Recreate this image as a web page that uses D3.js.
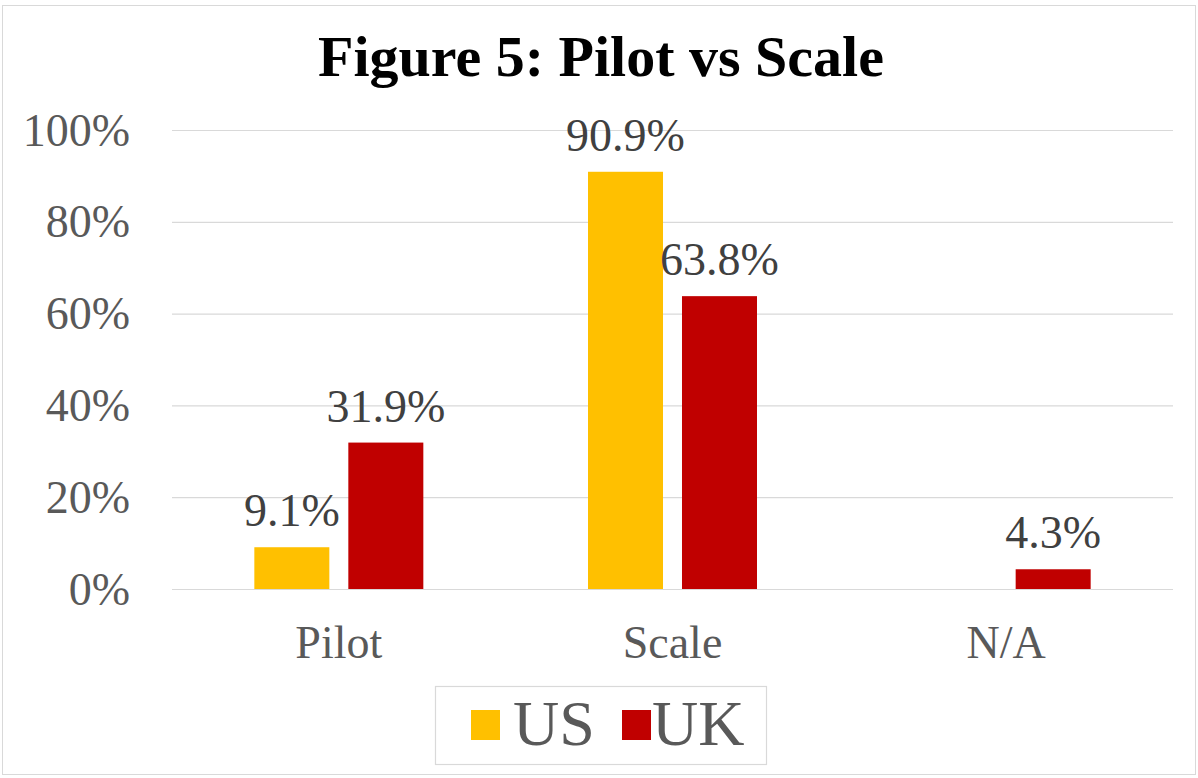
<!DOCTYPE html>
<html>
<head>
<meta charset="utf-8">
<script src="https://cdn.jsdelivr.net/npm/d3@7"></script>
<style>
  html, body { margin: 0; padding: 0; background: #fff; }
  svg { display: block; }
</style>
</head>
<body>
<svg id="chart" width="1198" height="778"></svg>
<script>
const title = "Figure 5: Pilot vs Scale";
const categories = ["Pilot", "Scale", "N/A"];
const seriesNames = ["US", "UK"];
const usValues = [9.1, 90.9, null];
const ukValues = [31.9, 63.8, 4.3];
const yTicks = [0, 20, 40, 60, 80, 100];
const colors = ["#FFC000", "#C00000"];

const seriesValues = [usValues, ukValues];
const W = 1198, H = 778;
const svg = d3.select("#chart");
const serif = "'Liberation Serif', 'Times New Roman', serif";
const textColor = "#595959";

// outer border
svg.append("rect").attr("x", 2.5).attr("y", 5.5).attr("width", 1193).attr("height", 769)
  .attr("fill", "#fff").attr("stroke", "#D9D9D9").attr("stroke-width", 1);

const plot = { left: 172, right: 1173, top: 130, bottom: 589 };

const x0 = d3.scaleBand().domain(categories).range([plot.left, plot.right]).padding(0);
const bw = x0.bandwidth();
const groupW = 169;
const x1 = d3.scaleBand().domain(seriesNames)
  .range([bw / 2 - groupW / 2, bw / 2 + groupW / 2]).paddingInner(0.202).paddingOuter(0);
const y = d3.scaleLinear().domain([0, 100]).range([plot.bottom, plot.top]);

// title
svg.append("text").attr("x", 601).attr("y", 76).attr("text-anchor", "middle")
  .attr("font-family", serif).attr("font-weight", "bold").attr("font-size", 58)
  .attr("fill", "#000").text(title);

// grid + y axis
const yAxis = d3.axisLeft(y).tickValues(yTicks).tickFormat(d => d + "%")
  .tickSize(-(plot.right - plot.left)).tickPadding(42);
const gy = svg.append("g").attr("transform", `translate(${plot.left},0)`).call(yAxis);
gy.attr("font-family", serif);
gy.select(".domain").remove();
gy.selectAll(".tick line").attr("stroke", "#D9D9D9").attr("stroke-width", 1.2);
gy.selectAll(".tick text").attr("font-family", serif).attr("font-size", 46)
  .attr("fill", textColor).attr("dy", "0.33em");

// x axis labels
const xAxis = d3.axisBottom(x0).tickSize(0).tickPadding(36);
const gx = svg.append("g").attr("transform", `translate(0,${plot.bottom})`).call(xAxis);
gx.attr("font-family", serif);
gx.select(".domain").remove();
gx.selectAll(".tick text").attr("font-family", serif).attr("font-size", 46)
  .attr("fill", textColor).attr("dy", "0.71em");

// bars
const rows = [];
categories.forEach((c, i) => {
  seriesNames.forEach((s, j) => {
    const v = seriesValues[j][i];
    if (v !== null) rows.push({ cat: c, series: s, value: v, color: colors[j] });
  });
});

svg.append("g").selectAll("rect").data(rows).join("rect")
  .attr("x", d => x0(d.cat) + x1(d.series))
  .attr("y", d => y(d.value))
  .attr("width", x1.bandwidth())
  .attr("height", d => y(0) - y(d.value))
  .attr("fill", d => d.color);

svg.append("g").selectAll("text").data(rows).join("text")
  .attr("x", d => x0(d.cat) + x1(d.series) + x1.bandwidth() / 2)
  .attr("y", d => y(d.value) - 21)
  .attr("text-anchor", "middle")
  .attr("font-family", serif).attr("font-size", 46).attr("fill", "#404040")
  .text(d => d.value.toFixed(1) + "%");

// legend
const legend = svg.append("g");
legend.append("rect").attr("x", 435.5).attr("y", 686.5).attr("width", 331).attr("height", 78)
  .attr("fill", "#fff").attr("stroke", "#D9D9D9").attr("stroke-width", 1.2);
const legendX = [471, 622];
seriesNames.forEach((s, j) => {
  legend.append("rect").attr("x", legendX[j]).attr("y", 710).attr("width", 29).attr("height", 30)
    .attr("fill", colors[j]);
  legend.append("text").attr("x", legendX[j] + 30 + (j === 0 ? 12 : 0)).attr("y", 745)
    .attr("font-family", serif).attr("font-size", 64).attr("fill", textColor).text(s);
});
</script>
</body>
</html>
